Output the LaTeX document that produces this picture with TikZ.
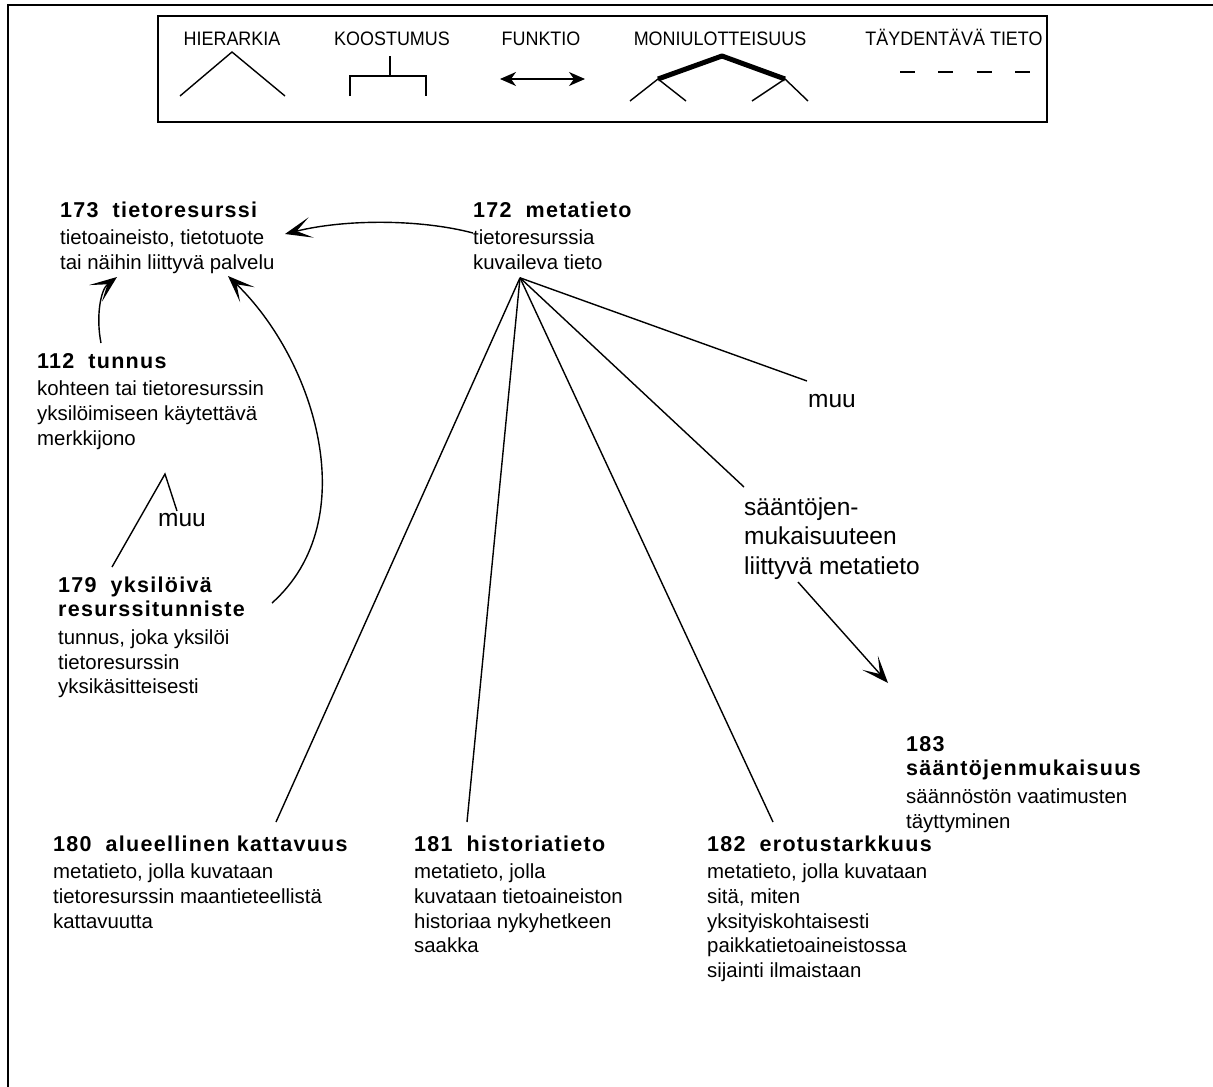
\documentclass[tikz,border=0pt]{standalone}
\usepackage{fontspec}
\setmainfont{Liberation Sans}
\newfontfamily\ttlfont[LetterSpace=6]{Liberation Sans}
\newfontfamily\legfont[FakeStretch=0.92]{Liberation Sans}
\usetikzlibrary{arrows.meta,calc}

% concept number + term, set in spaced bold
\newcommand\ttl[2]{{\ttlfont\bfseries\fontsize{21.5}{24.6}\selectfont #1\hspace{14pt}#2}}
\newcommand\bttl[1]{{\ttlfont\bfseries\fontsize{21.5}{24.6}\selectfont #1}}

\tikzset{
  blk/.style={anchor=north west, inner sep=0pt, align=left,
              font=\fontsize{20.4}{24.6}\selectfont},
  lbl/.style={anchor=base west, inner sep=0pt,
              font=\fontsize{24.5}{29.5}\selectfont},
  lblm/.style={anchor=north west, inner sep=0pt, align=left,
              font=\fontsize{24.5}{29.5}\selectfont},
  legtxt/.style={anchor=base, inner sep=0pt,
              font=\legfont\fontsize{19.5}{22}\selectfont},
  rel/.style={line width=1.4pt},
  arr/.style={line width=1.4pt, -{Stealth[length=27pt,width=21pt,inset=15pt]}},
}

\begin{document}
\begin{tikzpicture}[x=1pt,y=-1pt]
\useasboundingbox (0,0) rectangle (1213,1087);

% outer frame (top and left edges)
\draw[line width=2pt] (7.5,1087) -- (7.5,4.8) -- (1213,4.8);

% ---- legend ----
\draw[line width=1.8pt] (158,16) rectangle (1047,122);
\node[legtxt] (lh) at (232,45) {HIERARKIA};
\node[legtxt] (lk) at (392,45) {KOOSTUMUS};
\node[legtxt] (lf) at (541,45) {FUNKTIO};
\node[legtxt] (lm) at (720,45) {MONIULOTTEISUUS};
\node[legtxt] (lt) at (954,45) {TÄYDENTÄVÄ TIETO};

\draw[rel] (180,96) -- (232,52) -- (285,96);
\draw[rel] (390,56) -- (390,76);
\draw[rel] (350,96) -- (350,76) -- (426,76) -- (426,96);
\draw[line width=1.4pt, {Stealth[length=16pt,width=14pt,inset=5pt]}-{Stealth[length=16pt,width=14pt,inset=5pt]}]
  (500,79) -- (585,79);
\draw[line width=5pt, line join=round] (658,79) -- (722,56) -- (785,79);
\draw[rel] (630,101) -- (658,79) -- (686,101);
\draw[rel] (752,101) -- (785,79) -- (808,101);
\draw[rel, dash pattern=on 15pt off 23.33pt] (900,72) -- (1030,72);

% ---- concepts ----
\node[blk] (t173) at (60,201) {\rule{0pt}{16pt}\ttl{173}{tietoresurssi}\\[3pt]
  tietoaineisto, tietotuote\\ tai näihin liittyvä palvelu};
\node[blk] (t172) at (473,201) {\rule{0pt}{16pt}\ttl{172}{metatieto}\\[3pt]
  tietoresurssia\\ kuvaileva tieto};
\node[blk] (t112) at (37,352) {\rule{0pt}{16pt}\ttl{112}{tunnus}\\[3pt]
  kohteen tai tietoresurssin\\ yksilöimiseen käytettävä\\ merkkijono};
\node[blk] (t179) at (58,576) {\rule{0pt}{16pt}\ttl{179}{yksilöivä}\\
  \bttl{resurssitunniste}\\[3pt]
  tunnus, joka yksilöi\\ tietoresurssin\\ yksikäsitteisesti};
\node[blk] (t183) at (906,735) {\rule{0pt}{16pt}\bttl{183}\\
  \bttl{sääntöjenmukaisuus}\\[3pt]
  säännöstön vaatimusten\\ täyttyminen};
\node[blk] (t180) at (53,835) {\rule{0pt}{16pt}\ttl{180}{alueellinen kattavuus}\\[3pt]
  metatieto, jolla kuvataan\\ tietoresurssin maantieteellistä\\ kattavuutta};
\node[blk] (t181) at (414,835) {\rule{0pt}{16pt}\ttl{181}{historiatieto}\\[3pt]
  metatieto, jolla\\ kuvataan tietoaineiston\\ historiaa nykyhetkeen\\ saakka};
\node[blk] (t182) at (707,835) {\rule{0pt}{16pt}\ttl{182}{erotustarkkuus}\\[3pt]
  metatieto, jolla kuvataan\\ sitä, miten\\ yksityiskohtaisesti\\
  paikkatietoaineistossa\\ sijainti ilmaistaan};

% subdivision criteria
\node[lbl] (muuR) at (808,407) {muu};
\node[lbl] (muuL) at (158,526) {muu};
\node[lblm] (saan) at (744,497) {\rule{0pt}{18pt}sääntöjen-\\ mukaisuuteen\\ liittyvä metatieto};

% ---- hierarchy below 172 ----
\coordinate (fan) at ($(t172.south west)+(47,8)$);
\draw[rel] (fan) -- ($(muuR.base west)+(-1,-26)$);
\draw[rel] (fan) -- ($(saan.north west)+(0,-10)$);
\draw[rel] (fan) -- ($(t180.north west)+(223,-13)$);
\draw[rel] (fan) -- ($(t181.north west)+(53,-13)$);
\draw[rel] (fan) -- ($(t182.north west)+(66,-13)$);

% ---- hierarchy below 112 ----
\coordinate (top112) at ($(t112.north west)+(128,122)$);
\draw[rel] ($(t179.north west)+(54,-9)$) -- (top112) -- ($(muuL.base west)+(19,-15)$);

% ---- functional relations ----
\draw[arr] ($(t172.north west)+(0,32)$) .. controls +(-53,-14) and +(60,-15) ..
  ($(t173.north west)+(225,33)$);
\draw[arr] ($(t112.north west)+(64,-9)$) .. controls +(-5,-25) and +(-17,13) ..
  ($(t173.north west)+(57,76)$);
\draw[arr] ($(t179.north west)+(214,27)$) .. controls +(93,-83) and +(87,84) ..
  ($(t173.north west)+(168,75)$);
\draw[arr] ($(saan.north west)+(54,85)$) -- ($(t183.north west)+(-18,-52)$);

\end{tikzpicture}
\end{document}
